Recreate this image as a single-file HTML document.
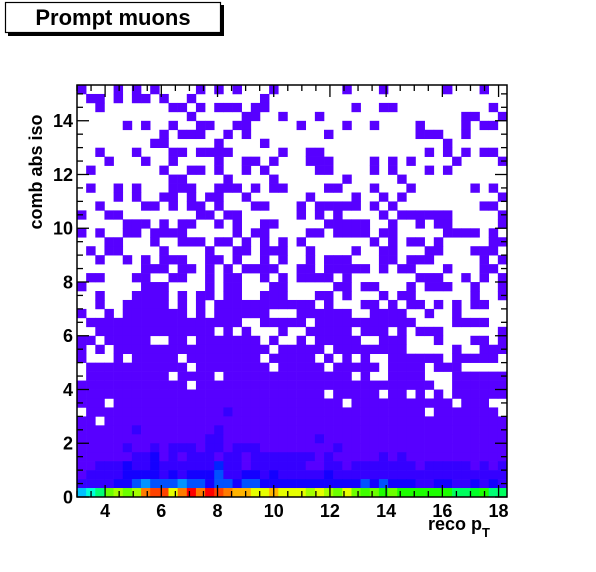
<!DOCTYPE html>
<html><head><meta charset="utf-8"><style>
html,body{margin:0;padding:0;background:#fff;}
svg{display:block;font-family:"Liberation Sans",Arial,sans-serif;}
</style></head><body>
<svg id="chart" width="596" height="572" viewBox="0 0 596 572">
  <g>
    <rect x="8" y="5" width="216" height="31" fill="#000"/>
    <rect x="5.5" y="2.5" width="215" height="30" fill="#fff" stroke="#000" stroke-width="1.2"/>
    <text x="113" y="25" text-anchor="middle" font-size="22" font-weight="bold">Prompt muons</text>
  </g>
  <g id="cells"></g>
  <g id="axes"></g>
  <text x="42" y="172" transform="rotate(-90 42 172)" text-anchor="middle" font-size="18" font-weight="bold">comb abs iso</text>
  <text x="490" y="530" text-anchor="end" font-size="18" font-weight="bold">reco p<tspan font-size="13" dy="7">T</tspan></text>
</svg>
<script>
// Data: bin grid, rows listed from top (high iso) to bottom; codes map to counts
const xMin = 3, xMax = 18.3, yMin = 0, yMax = 15.33;
const nX = 47, nY = 46;
const levelCounts = {"1":1, "2":4, "3":7, "4":12, "5":16, "6":22};
const gridRows = [
"1...1.1.1....1.1.1...1.......1...1......1...1..",
".11.1.11.1..1.......1..................................".slice(0,47),
"..1.......11.1.111.11.........1..11..........1.",
"............1.....11..1...1...............11..1.",
".....1.1..1..11..11.....1....1..1....1....1.11",
".........1.111..1.1........1.........111..1..",
"........11.....1....1...................1......",
"..1...1...11.1111.....1..11...........1.1.1.11.",
"...1...1..1....1..11.1...111....1.1.1....1....1",
".1.......1..11.1..1.1.....11....1.1...1.1......",
"..........11....1....1.......1.....1...........",
".1..1.1...111..111.1.11....11...1...1......1.1.",
"....1.1..11.1.11..1......1....1..1.1..........1",
"..1....11.1.11.1...11...1.11111.1.1.........11.",
"1..11........11.11......1.1.1....1.111111.....1",
".....111.1.11..1.1..11.....11111..1..1.11.....11",
"1.1..11.1111.....1.11....11.1111.11.....1111.1..",
"...11...1..111.11.1.1.1.1.......1.1.11.1.....11..",
".1.11....1....1..11.111..1....1..11...11...111..",
"..1..1.1.111..11.1..1.1..1.111...11.111.....1.1",
"..".slice(0,0)+".......111.11.1.1.1111..11.11111.1.11...1...11..",
".11...11..11..1.11..1.1.1111.1.......111..1.1.1",
"1......111....1.11...11.....11.11...1.111..1..11",
"..1...1111.1.11.11..111...11.1...1.11......1..1.",
"..1..11111.1.1.11111111111.1...11.1.11.1.1.11..1",
"1..1.11111 11.1.11111 1...111111..1111..1..1.....".replace(/ /g,""),
".11111111111111111..11111.11111111111....1111..",
"..1111111111111.1.1...1..11111.111.1.111......1..1",
"11.11111..11.1111111.1..1.11111..111...1...11.1",
"1.1.11111111111111111.11111.11111111.....1..1111",
"1...1.11111.11111111.11111.1.1.1..111111.11111.",
".11111111111.11111111.11111.11111.1111.111...",
".111111111.1111.11111111111111.1..1111...111111",
"111111111111.11111111111111111111111111..111111",
"111111111111111111111111111.11111.11.1.1.111111.",
"111.1111111111111111111111111.11111111111.111..",
".1111111111111112111111111111111111111.1111111",
"11.11111111111111111111111111111111111111111111",
"11111121111111121111111111111111111111111111111",
"11111111111111221111111111211111111111111111111",
"11111211212221221222111111112111111111111111111",
"11111122312122212212222222121111121211111111111",
"11222322322222242212222221122122222221222221212",
"12222333323233352233232222232222222222222222222",
"22223356555655355355333333333335353332233223232"
];
const bottomRow = [26,35,44,64,69,64,69,89,94,94,75,89,100,89,100,94,89,84,84,75,75,84,75,75,
  75,69,75,69,64,75,64,60,64,57,64,57,57,57,57,57,57,46,46,51,57,44,46];
const xTicks = [4,6,8,10,12,14,16,18];
const yTicks = [0,2,4,6,8,10,12,14];

const L = 77, R = 507, T = 85, B = 497;
const px = v => L + (v - xMin) / (xMax - xMin) * (R - L);
const py = v => B - (v - yMin) / (yMax - yMin) * (B - T);
const cw = (R - L) / nX, ch = (B - T) / nY;
const NS = "http://www.w3.org/2000/svg";
const color = v => "hsl(" + (263 * (1 - Math.min(v, 100) / 100)).toFixed(1) + ",100%,50%)";
const cells = document.getElementById("cells");
function cell(i, j, v) {
  const r = document.createElementNS(NS, "rect");
  r.setAttribute("x", (L + i * cw).toFixed(2));
  r.setAttribute("y", (T + j * ch).toFixed(2));
  r.setAttribute("width", (cw + 0.3).toFixed(2));
  r.setAttribute("height", (ch + 0.3).toFixed(2));
  r.setAttribute("fill", color(v));
  
  
  cells.appendChild(r);
}
// normalise row strings to nX characters
gridRows.forEach((s, j) => {
  const row = (s + ".".repeat(nX)).slice(0, nX);
  for (let i = 0; i < nX; i++) {
    const c = row[i];
    if (levelCounts[c]) cell(i, j, levelCounts[c]);
  }
});
bottomRow.forEach((v, i) => cell(i, nY - 1, v));

const axes = document.getElementById("axes");
function line(x1, y1, x2, y2, name) {
  const l = document.createElementNS(NS, "line");
  l.setAttribute("x1", x1); l.setAttribute("y1", y1);
  l.setAttribute("x2", x2); l.setAttribute("y2", y2);
  l.setAttribute("stroke", "#000"); l.setAttribute("stroke-width", "1.3");
  
  
  axes.appendChild(l);
}
const frame = document.createElementNS(NS, "rect");
frame.setAttribute("x", L); frame.setAttribute("y", T);
frame.setAttribute("width", R - L); frame.setAttribute("height", B - T);
frame.setAttribute("fill", "none"); frame.setAttribute("stroke", "#000"); frame.setAttribute("stroke-width", "1.5");


axes.appendChild(frame);
for (let v = 3; v <= xMax + 1e-6; v += 0.5) {
  const major = Math.abs(v / 2 - Math.round(v / 2)) < 1e-6;
  const len = major ? 12 : 6, x = px(v);
  line(x, B, x, B - len, 'x-tick');
  line(x, T, x, T + len, 'x-tick-top');
}
for (let v = 0; v <= yMax + 1e-6; v += 0.5) {
  const major = Math.abs(v / 2 - Math.round(v / 2)) < 1e-6;
  const len = major ? 12 : 6, y = py(v);
  line(L, y, L + len, y, 'y-tick');
  line(R, y, R - len, y, 'y-tick-right');
}
xTicks.forEach(v => {
  const t = document.createElementNS(NS, "text");
  t.setAttribute("x", px(v)); t.setAttribute("y", 517);
  t.setAttribute("text-anchor", "middle"); t.setAttribute("font-size", "18"); t.setAttribute("font-weight", "bold");
  t.textContent = v;
  
  
  axes.appendChild(t);
});
yTicks.forEach(v => {
  const t = document.createElementNS(NS, "text");
  t.setAttribute("x", 73); t.setAttribute("y", py(v) + 6.5);
  t.setAttribute("text-anchor", "end"); t.setAttribute("font-size", "18"); t.setAttribute("font-weight", "bold");
  t.textContent = v;
  
  
  axes.appendChild(t);
});
</script>
</body></html>
